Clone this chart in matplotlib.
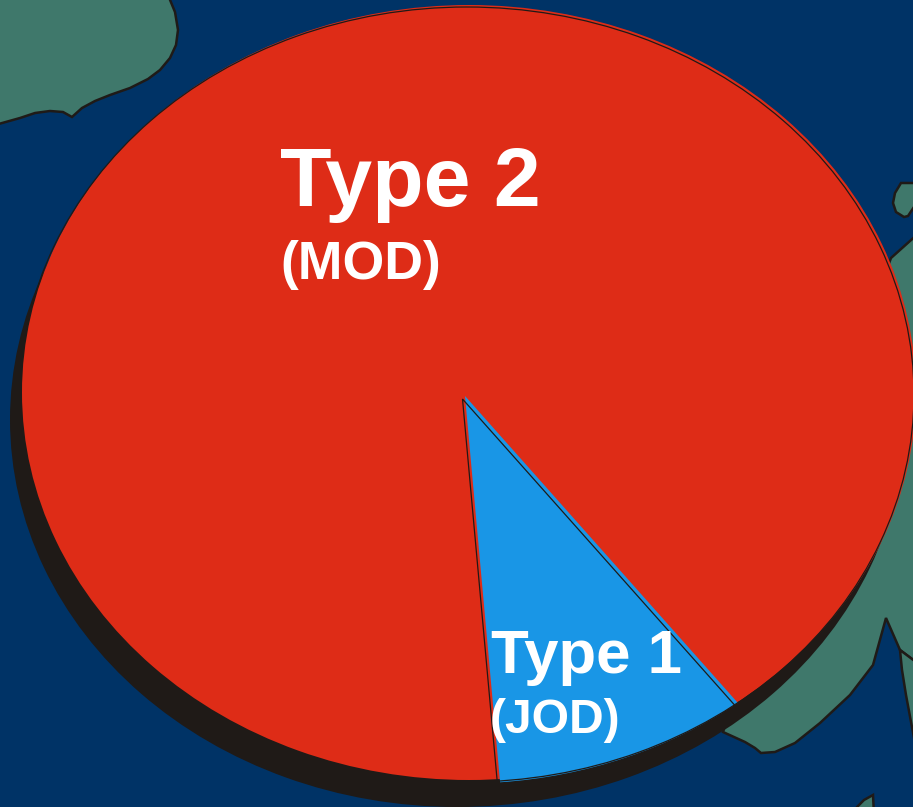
import matplotlib
matplotlib.use("Agg")
import matplotlib.pyplot as plt
from matplotlib.patches import Polygon

W, H = 913, 807

# share of each type
categories = ["Type 1", "Type 2"]
subtitles = ["(JOD)", "(MOD)"]
shares = [9.2, 90.8]

# background map outlines, in picture pixels (run past the edges so no border line shows)
land_topleft = [(168, -5), (175, 12), (178, 30), (176, 45), (170, 58), (160, 70), (148, 79), (130, 88),
                (110, 95), (95, 101), (82, 108), (72, 117), (63, 112), (50, 111), (35, 113), (20, 118),
                (-5, 125), (-5, -5)]
land_island = [(901, 183), (920, 183), (920, 198), (908, 216), (904, 217), (896, 212), (893, 203), (895, 193)]
land_main = [(920, 232), (891, 258), (800, 500), (723, 732), (745, 742), (755, 748), (761, 753), (775, 752),
             (795, 743), (820, 723), (850, 695), (873, 665), (886, 618), (900, 650), (920, 665), (930, 400)]
land_east = [(900, 650), (920, 665), (920, 770), (906, 695), (902, 670)]
land_south = [(857, 815), (857, 807), (864, 800), (873, 795), (874, 815)]

NAVY = "#003366"
TEAL = "#3F786B"
RED = "#DE2C17"
BLUE = "#1996E6"
DARK = "#1F1A17"

fig = plt.figure(figsize=(W / 100, H / 100), dpi=100, facecolor=NAVY)

bg = fig.add_axes([0, 0, 1, 1])
bg.set_xlim(0, W)
bg.set_ylim(H, 0)
bg.axis("off")
for pts in [land_topleft, land_island, land_main, land_east, land_south]:
    bg.add_patch(Polygon(pts, closed=True, facecolor=TEAL, edgecolor=DARK, linewidth=1.8, joinstyle="miter"))

# ellipse centre and radii in pixels
cx, cy, rx, ry = 469, 392.5, 447, 387.5
start = -85.5

ax = fig.add_axes([0, 0, 1, 1], zorder=2)
ax.patch.set_alpha(0)

# shadow, red disc, blue wedge, then the slightly misregistered outlines
ax.pie([100], colors=[DARK], center=(-12 / rx, -27 / ry))
ax.pie([100], colors=[RED])
ax.pie(shares, colors=[BLUE, "none"], startangle=start, center=(-4 / rx, -3.5 / ry))
ax.pie([100], colors=["none"], center=(-2 / rx, -2 / ry),
       wedgeprops={"edgecolor": DARK, "linewidth": 0.9})
outline, _ = ax.pie(shares, colors=["none", "none"], startangle=start, center=(-6.5 / rx, -6.5 / ry),
                    wedgeprops={"edgecolor": DARK, "linewidth": 0.9})
outline[1].set_visible(False)

ax.set_aspect("auto")
ax.set_xlim((0 - cx) / rx, (W - cx) / rx)
ax.set_ylim((cy - H) / ry, cy / ry)
ax.axis("off")


def label(x, y, s, size):
    fig.text(x / W, 1 - y / H, s, color="white", fontsize=size, fontweight="bold",
             family="Liberation Sans", ha="left", va="baseline", zorder=5)


label(280, 206, categories[1], 60.7)
label(280, 279, subtitles[1], 38.6)
label(491, 673, categories[0], 44.5)
label(490, 733, subtitles[0], 34.6)

fig.savefig("out.png", dpi=100, facecolor=NAVY)
